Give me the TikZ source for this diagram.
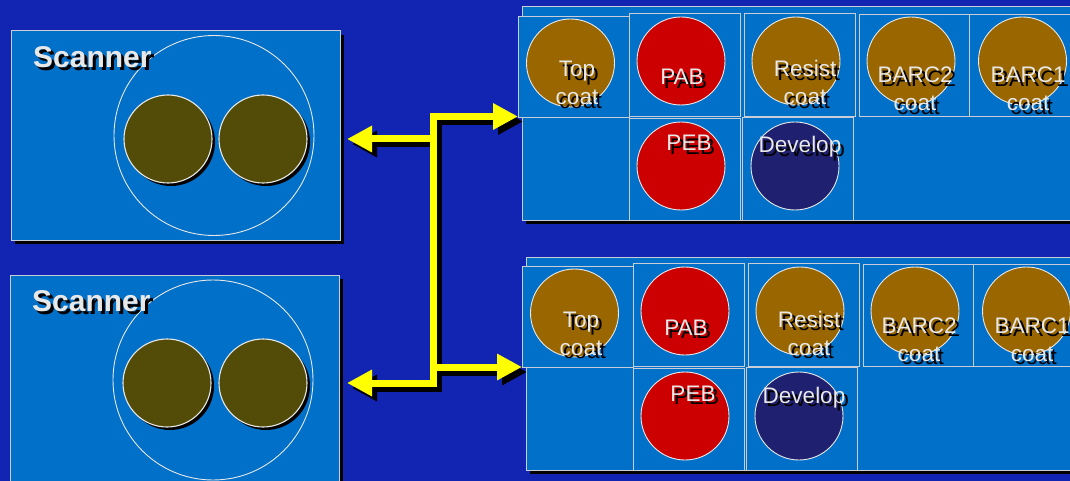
\documentclass[tikz,border=0pt]{standalone}
\usepackage{fontspec}
\setmainfont{Liberation Sans}
\usetikzlibrary{arrows.meta,shadows}
\definecolor{bgblue}{RGB}{18,36,178}
\definecolor{boxblue}{RGB}{0,112,200}
\definecolor{edgegray}{RGB}{200,205,215}
\definecolor{waferolive}{RGB}{82,76,8}
\definecolor{coatbrown}{RGB}{153,102,0}
\definecolor{bakered}{RGB}{204,0,0}
\definecolor{devnavy}{RGB}{32,32,112}
\definecolor{labelwhite}{RGB}{232,232,232}
\definecolor{arrowyellow}{RGB}{255,255,0}

\tikzset{
  scanbox/.style={draw=edgegray, fill=boxblue, line width=1pt, inner sep=0pt,
    drop shadow={shadow xshift=4pt, shadow yshift=-4pt, fill=black, opacity=1}},
  outerbox/.style={draw=edgegray, fill=boxblue, line width=1pt, inner sep=0pt,
    drop shadow={shadow xshift=4pt, shadow yshift=-4pt, fill=black, opacity=1}},
  cellbox/.style={draw=edgegray, fill=boxblue, line width=0.9pt, inner sep=0pt},
  ring/.style={circle, draw=labelwhite, line width=0.9pt, minimum size=200pt, inner sep=0pt},
  wafer/.style={circle, draw=labelwhite, line width=1.1pt, fill=waferolive, minimum size=88pt, inner sep=0pt,
    drop shadow={shadow xshift=3pt, shadow yshift=-3pt, fill=black, opacity=1}},
  disc/.style={circle, draw=labelwhite, line width=0.9pt, minimum size=88pt, inner sep=0pt},
  lbl/.style={font=\fontsize{22.5}{28}\selectfont, text=labelwhite, align=center, inner sep=0pt, anchor=base},
  lblsh/.style={lbl, text=black, xshift=3.5pt, yshift=-3.5pt},
  scanlbl/.style={font=\bfseries\fontsize{30}{36}\selectfont, text=labelwhite, inner sep=0pt, anchor=base west},
  scanlblsh/.style={scanlbl, text=black, xshift=3pt, yshift=-3pt},
  bigtip/.tip={Triangle[length=25pt,width=25pt]},
  yline/.style={draw=arrowyellow, line width=7pt, line join=miter},
  shline/.style={draw=black, line width=7pt, line join=miter},
}

\newcommand\trackunit[1]{%
  \node[outerbox, minimum width=563pt, minimum height=213pt] (#1out) at (803.5,113.5) {};
  \node[cellbox, minimum width=111pt, minimum height=101pt] (#1tcc) at (573.5,66.5) {};
  \node[cellbox, minimum width=111pt, minimum height=103pt] (#1pabc) at (684.5,64.5) {};
  \node[cellbox, minimum width=111pt, minimum height=103pt] (#1resc) at (799.5,64.5) {};
  \node[cellbox, minimum width=110pt, minimum height=102pt] (#1btwoc) at (914,65) {};
  \node[cellbox, minimum width=111pt, minimum height=102pt] (#1bonec) at (1024.5,65) {};
  \node[cellbox, minimum width=111pt, minimum height=102pt] (#1pebc) at (684.5,169) {};
  \node[cellbox, minimum width=111pt, minimum height=103pt] (#1devc) at (797.5,168.5) {};
  \node[disc, fill=coatbrown] (#1tcd) at (570.5,63) {};
  \node[disc, fill=bakered] (#1pabd) at (681,61) {};
  \node[disc, fill=coatbrown] (#1resd) at (796,61) {};
  \node[disc, fill=coatbrown] (#1btwod) at (911,61) {};
  \node[disc, fill=coatbrown] (#1boned) at (1022.5,61) {};
  \node[disc, fill=bakered] (#1pebd) at (681,166) {};
  \node[disc, fill=devnavy] (#1devd) at (795,166) {};
  \node[lblsh] (#1tcs) at (577,105) {Top\\coat};
  \node[lbl] (#1tct) at (577,105) {Top\\coat};
  \node[lblsh] (#1pabs) at (682,85) {PAB};
  \node[lbl] (#1pabt) at (682,85) {PAB};
  \node[lblsh] (#1ress) at (805,105) {Resist\\coat};
  \node[lbl] (#1rest) at (805,105) {Resist\\coat};
  \node[lblsh] (#1btwos) at (915,111) {BARC2\\coat};
  \node[lbl] (#1btwot) at (915,111) {BARC2\\coat};
  \node[lblsh] (#1bones) at (1028,111) {BARC1\\coat};
  \node[lbl] (#1bonet) at (1028,111) {BARC1\\coat};
  \node[lblsh] (#1pebs) at (689,151) {PEB};
  \node[lbl] (#1pebt) at (689,151) {PEB};
  \node[lblsh] (#1devs) at (800,153) {Develop};
  \node[lbl] (#1devt) at (800,153) {Develop};
}

\begin{document}
\begin{tikzpicture}[x=1pt,y=-1pt]
\useasboundingbox (0,0) rectangle (1070,481);
\fill[bgblue] (0,0) rectangle (1070,481);

% Scanner 1
\node[scanbox, minimum width=329pt, minimum height=209pt] (scanA) at (175.5,135.5) {};
\node[ring] (ringA) at (214,135.5) {};
\node[wafer] (wA1) at (168,139) {};
\node[wafer] (wA2) at (263,139) {};
\node[scanlblsh] (scanAs) at (33,68) {Scanner};
\node[scanlbl] (scanAt) at (33,68) {Scanner};

% Scanner 2
\node[scanbox, minimum width=329pt, minimum height=211pt] (scanB) at (174.5,380.5) {};
\node[ring] (ringB) at (213,380) {};
\node[wafer] (wB1) at (167,383) {};
\node[wafer] (wB2) at (263,383) {};
\node[scanlblsh] (scanBs) at (32,311) {Scanner};
\node[scanlbl] (scanBt) at (32,311) {Scanner};

% Tracks
\trackunit{u}
\begin{scope}[shift={(4,250)}]
\trackunit{l}
\end{scope}

% Arrows
\coordinate (jtop) at (433,116.5);
\coordinate (jbot) at (433,383);
\coordinate (tipA) at (518,116.5);
\coordinate (jB) at (433,139);
\coordinate (tipB) at (347,139);
\coordinate (jC) at (433,367);
\coordinate (tipC) at (522,367);
\coordinate (tipD) at (347,383);

\draw[shline, bigtip-bigtip] ([shift={(5,5)}]tipD) -- ([shift={(5,5)}]jbot) -- ([shift={(5,5)}]jtop) -- ([shift={(5,5)}]tipA);
\draw[shline, -bigtip] ([shift={(5,5)}]jB) -- ([shift={(5,5)}]tipB);
\draw[shline, -bigtip] ([shift={(5,5)}]jC) -- ([shift={(5,5)}]tipC);

\draw[yline, bigtip-bigtip] (tipD) -- (jbot) -- (jtop) -- (tipA);
\draw[yline, -bigtip] (jB) -- (tipB);
\draw[yline, -bigtip] (jC) -- (tipC);
\end{tikzpicture}
\end{document}
